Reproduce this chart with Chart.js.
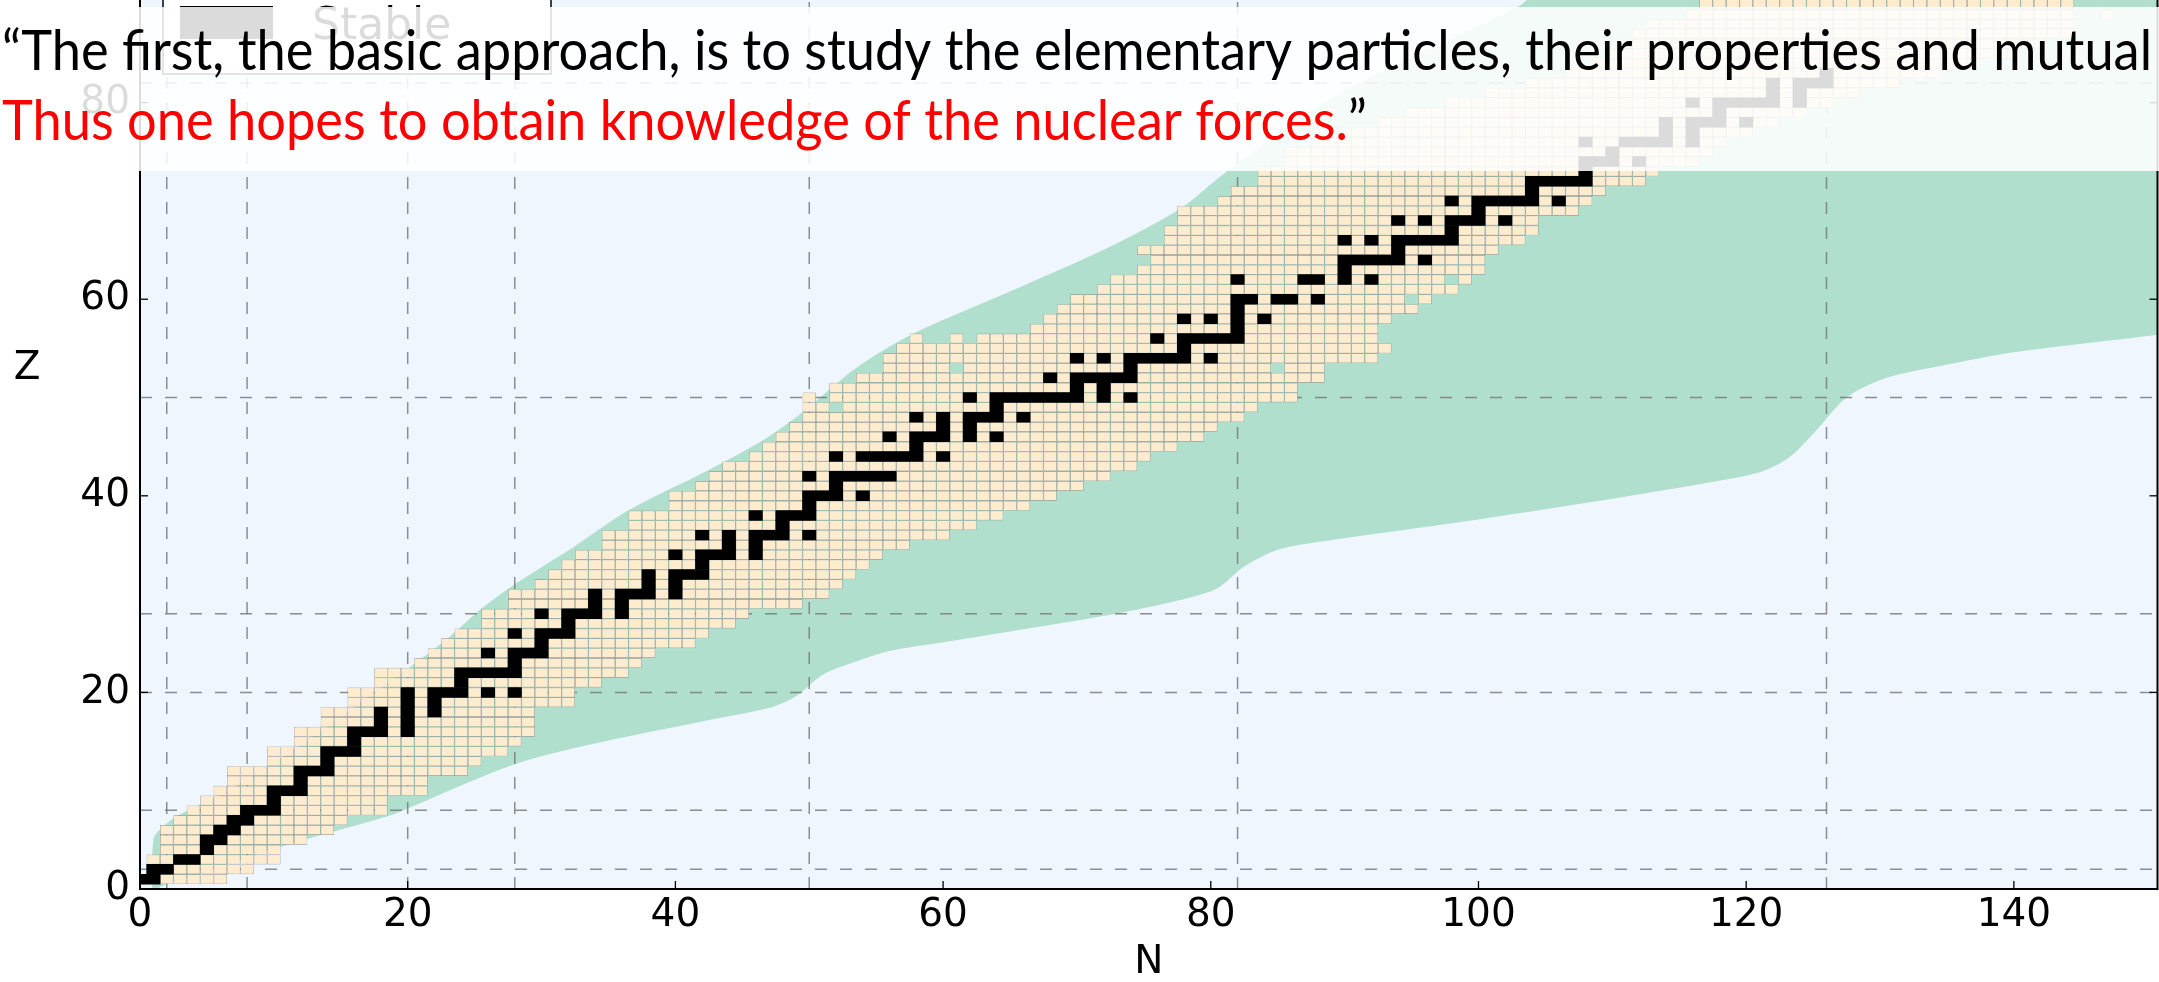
<!DOCTYPE html>
<html>
<head>
<meta charset="utf-8">
<script src="https://cdn.jsdelivr.net/npm/chart.js"></script>
<style>
  html, body { margin: 0; padding: 0; background: #fff; overflow: hidden; }
  #wrap { width: 2159px; height: 982px; position: relative; }
</style>
</head>
<body>
<div id="wrap"><canvas id="chart"></canvas></div>
<script>
// known nuclides: one row segment (Z, first N, last N) per entry
const knownZ    = [1,2,3,4,5,6,7,8,9,10, 11,12,13,14,15,16,17,18,19,20, 21,22,23,24,25,26,27,28,29,30,
                   31,32,33,34,35,36,37,38,39,40, 41,42,43,44,45,46,47,48,49,50, 51,52,53,54,55,56,56,56,57,58,
                   59,60,61,62,63,64,65,66,67,68, 69,70,71,72,73,74,75,76,77,78, 79,80,81,82,83,84,85,86,87,88, 89,89,90];
const knownNmin = [0,1,1,2,2,2,3,4,5,6, 7,7,10,10,12,12,14,14,16,16, 18,18,21,22,23,24,26,26,28,28,
                   30,31,32,33,35,35,37,37,40,40, 42,43,44,46,47,48,49,50,50,50, 52,54,56,56,57,58,61,63,67,68,
                   69,70,72,73,75,76,75,77,77,78, 78,81,82,84,84,86,86,88,90,93, 95,98,101,104,107,109,110,111,112,113, 116,147,117];
const knownNmax = [6,8,10,10,12,14,15,18,18,21, 21,24,25,27,28,29,29,29,32,32, 34,36,37,38,41,42,44,45,49,51,
                   52,53,54,55,57,60,62,64,66,68, 70,72,74,75,77,79,80,82,83,86, 86,88,88,92,93,58,61,92,92,93,
                   95,96,98,99,100,100,101,103,104,104, 107,108,109,112,113,116,117,118,120,122, 124,126,128,131,134,137,140,142,144,144, 144,147,144];
// unknown cells inside the band
const holeN = [52, 51, 61, 85, 95, 98];
const holeZ = [49, 50, 53, 53, 60, 62];

// stable isotopes: list of N for Z = 1, 2, 3, ...
const stableN = [
  [0,1],[1,2],[3,4],[5],[5,6],[6,7],[7,8],[8,9,10],[10],[10,11,12],
  [12],[12,13,14],[14],[14,15,16],[16],[16,17,18,20],[18,20],[18,20,22],[20,22],[20,22,23,24,26,28],
  [24],[24,25,26,27,28],[28],[26,28,29,30],[30],[28,30,31,32],[32],[30,32,33,34,36],[34,36],[34,36,37,38,40],
  [38,40],[38,40,41,42],[42],[40,42,43,44,46],[44,46],[42,44,46,47,48,50],[48],[46,48,49,50],[50],[50,51,52,54],
  [52],[50,52,53,54,55,56],[],[52,54,55,56,57,58,60],[58],[56,58,59,60,62,64],[60,62],[58,60,62,63,64,66],[64],[62,64,65,66,67,68,69,70,72,74],
  [70,72],[68,70,71,72,73,74],[74],[70,72,74,75,76,77,78,80],[78],[76,78,79,80,81,82],[82],[78,80,82,84],[82],[82,83,85,86,88],
  [],[82,87,88,90,92],[90],[90,91,92,93,94,96],[94],[90,92,94,95,96,97,98],[98],[94,96,98,99,100,102],[100],[98,100,101,102,103,104,106],
  [104],[104,105,106,107,108],[108],[108,109,110,112],[110],[108,111,112,113,114,116],[114,116],[114,116,117,118,120],[118],[116,118,119,120,121,122,124],
  [122,124],[122,124,125,126],[126]
];

// drip line band: proton side (upper-left) and neutron side (lower-right)
const dripUpperN = [0.9, 1.0, 1.6, 3.0, 6.0, 9.5, 14, 17, 20.4, 23, 25.5, 28, 32.4, 36.6, 42.3, 46.6, 49.5, 53.5, 57.8, 65.2, 72.7, 77.7, 81.2, 90.1, 103, 106, 160, 160];
const dripUpperZ = [-2, 5.0, 6.2, 7.6, 9.6, 12.4, 16.5, 19.5, 22.8, 25.5, 28.5, 31, 34.8, 38.6, 42.5, 45.7, 48.5, 53, 56.5, 60.9, 65.5, 69.2, 73, 81.3, 89.8, 93, 93, 58];
const dripLowerN = [1.1, 1.3, 4, 10.5, 18.5, 20, 28, 35, 41.8, 47.2, 49, 51, 53.4, 56, 60, 65, 72.5, 77.7, 80.5, 82.5, 85, 88, 100, 110, 117, 121, 123.2, 125.2, 127.5, 130.5, 134.5, 140, 150.8, 158];
const dripLowerZ = [-2, 0, 1.3, 4.3, 7.4, 8.2, 12.7, 15.1, 17, 18.5, 19.6, 21.8, 23.1, 24.2, 25.1, 26.2, 27.9, 29.4, 30.6, 32.8, 34.5, 35.3, 37.6, 39.7, 41.3, 42.4, 43.9, 46.6, 50, 52, 53.2, 54.6, 56.4, 57.7];

const magicN = [2, 8, 20, 28, 50, 82, 126];
const magicZ = [2, 8, 20, 28, 50, 82];
const xTicks = [0, 20, 40, 60, 80, 100, 120, 140];
const yTicks = [0, 20, 40, 60, 80];

const quoteLine1 = '\u201CThe first, the basic approach, is to study the elementary particles, their properties and mutual';
const quoteLine2 = 'Thus one hopes to obtain knowledge of the nuclear forces.';

const isHole = (n, z) => holeN.some((h, i) => h === n && holeZ[i] === z);

const knownCells = [];
knownZ.forEach((z, i) => {
  for (let n = knownNmin[i]; n <= knownNmax[i]; n++) {
    if (!isHole(n, z)) knownCells.push({ x: [n - 0.5, n + 0.5], y: z });
  }
});

const stableCells = [];
stableN.forEach((list, i) => {
  list.forEach(n => stableCells.push({ x: [n - 0.5, n + 0.5], y: i + 1 }));
});

const dripShape = dripUpperN.map((n, i) => ({ x: n, y: dripUpperZ[i] }))
  .concat(dripLowerN.map((n, i) => ({ x: n, y: dripLowerZ[i] })).reverse());

const tickFont = { family: 'DejaVu Sans', size: 39 };

const decor = {
  id: 'decor',
  beforeDraw(chart) {
    const { ctx, chartArea: a } = chart;
    ctx.save();
    ctx.fillStyle = '#ffffff';
    ctx.fillRect(0, 0, chart.width, chart.height);
    ctx.fillStyle = '#eff6fe';
    ctx.fillRect(a.left, a.top, a.width, a.height);
    ctx.restore();
  },
  afterDatasetDraw(chart, args) {
    // magic number lines sit above the drip band, below the cells
    if (args.meta.type !== 'line') return;
    const { ctx, chartArea: a } = chart;
    const xs = chart.scales.x, ys = chart.scales.y;
    ctx.save();
    ctx.beginPath();
    ctx.rect(a.left, a.top, a.width, a.height);
    ctx.clip();
    ctx.setLineDash([12, 13]);
    ctx.strokeStyle = 'rgba(115,115,115,0.8)';
    ctx.lineWidth = 1.5;
    magicN.forEach(n => {
      const px = xs.getPixelForValue(n);
      ctx.beginPath(); ctx.moveTo(px, a.bottom); ctx.lineTo(px, a.top); ctx.stroke();
    });
    magicZ.forEach(z => {
      const py = ys.getPixelForValue(z);
      ctx.beginPath(); ctx.moveTo(a.left, py); ctx.lineTo(a.right, py); ctx.stroke();
    });
    ctx.restore();
  },
  afterDatasetsDraw(chart) {
    const { ctx, chartArea: a } = chart;
    const xs = chart.scales.x, ys = chart.scales.y;
    ctx.save();
    // frame
    ctx.strokeStyle = '#000';
    ctx.lineWidth = 2;
    ctx.beginPath();
    ctx.moveTo(a.left, a.top); ctx.lineTo(a.left, a.bottom);
    ctx.lineTo(a.right, a.bottom); ctx.lineTo(a.right, a.top);
    ctx.stroke();
    // inward ticks
    ctx.lineWidth = 1.3;
    xTicks.forEach(v => {
      const px = xs.getPixelForValue(v);
      ctx.beginPath(); ctx.moveTo(px, a.bottom); ctx.lineTo(px, a.bottom - 8); ctx.stroke();
    });
    yTicks.forEach(v => {
      const py = ys.getPixelForValue(v);
      ctx.beginPath(); ctx.moveTo(a.left, py); ctx.lineTo(a.left + 8, py); ctx.stroke();
      ctx.beginPath(); ctx.moveTo(a.right, py); ctx.lineTo(a.right - 8, py); ctx.stroke();
    });
    // upright axis letter
    ctx.fillStyle = '#000';
    ctx.font = '39px "DejaVu Sans"';
    ctx.textAlign = 'center';
    ctx.textBaseline = 'middle';
    ctx.fillText('Z', 27, 369);
    // legend (mostly cut off at the top)
    ctx.fillStyle = '#fff';
    ctx.fillRect(163, -30, 388, 104);
    ctx.strokeStyle = '#000';
    ctx.lineWidth = 1.5;
    ctx.strokeRect(163, -30, 388, 104);
    ctx.fillStyle = '#000';
    ctx.fillRect(180, 6, 93, 33);
    ctx.font = '44px "DejaVu Sans"';
    ctx.textAlign = 'left';
    ctx.textBaseline = 'alphabetic';
    ctx.fillText('Stable', 312, 39);
    ctx.restore();
  },
  afterDraw(chart) {
    const { ctx } = chart;
    ctx.save();
    ctx.fillStyle = 'rgba(255,255,255,0.86)';
    ctx.fillRect(0, 7, chart.width, 164);
    ctx.font = '56px Lato';
    ctx.textAlign = 'left';
    ctx.textBaseline = 'alphabetic';
    const w1 = ctx.measureText(quoteLine1).width;
    ctx.translate(2, 0);
    ctx.scale(2150 / w1, 1);
    ctx.fillStyle = '#000';
    ctx.fillText(quoteLine1, 0, 70);
    ctx.fillStyle = '#ff0000';
    ctx.fillText(quoteLine2, 0, 140);
    const w2 = ctx.measureText(quoteLine2).width;
    ctx.fillStyle = '#000';
    ctx.fillText('\u201D', w2, 140);
    ctx.restore();
  }
};

new Chart(document.getElementById('chart'), {
  type: 'bar',
  data: {
    datasets: [
      {
        type: 'line',
        label: 'Drip lines',
        data: dripShape,
        fill: 'shape',
        backgroundColor: '#b0dfce',
        borderWidth: 0,
        pointRadius: 0,
        tension: 0.3,
        order: 3
      },
      {
        type: 'bar',
        label: 'Known',
        data: knownCells,
        indexAxis: 'y',
        grouped: false,
        barPercentage: 1,
        categoryPercentage: 1,
        backgroundColor: '#ffebcd',
        borderColor: '#8e8e8e',
        borderWidth: 0.65,
        borderSkipped: false,
        inflateAmount: 0,
        order: 2
      },
      {
        type: 'bar',
        label: 'Stable',
        data: stableCells,
        indexAxis: 'y',
        grouped: false,
        barPercentage: 1,
        categoryPercentage: 1,
        backgroundColor: '#000000',
        borderWidth: 0,
        order: 1
      }
    ]
  },
  options: {
    responsive: true,
    maintainAspectRatio: false,
    animation: false,
    events: [],
    layout: { padding: { left: 0, right: 1.5, top: 0, bottom: 0 } },
    elements: { line: { capBezierPoints: false } },
    plugins: { legend: { display: false }, tooltip: { enabled: false } },
    scales: {
      x: {
        type: 'linear',
        min: 0,
        max: 150.73,
        offset: false,
        grid: { display: false, drawTicks: false, offset: false },
        border: { display: false },
        afterBuildTicks: s => { s.ticks = xTicks.map(v => ({ value: v })); },
        afterFit: s => { s.height = 93; s.paddingLeft = 0; s.paddingRight = 0; },
        ticks: { font: tickFont, color: '#000', padding: 3, maxRotation: 0, autoSkip: false },
        title: { display: true, text: 'N', color: '#000', font: { family: 'DejaVu Sans', size: 39, lineHeight: 1 }, padding: 0 }
      },
      y: {
        type: 'linear',
        min: 0,
        max: 90.44,
        offset: false,
        grid: { display: false, drawTicks: false, offset: false },
        border: { display: false },
        afterBuildTicks: s => { s.ticks = yTicks.map(v => ({ value: v })); },
        afterFit: s => { s.width = 140; s.paddingTop = 0; s.paddingBottom = 0; },
        ticks: { font: tickFont, color: '#000', padding: 10, autoSkip: false }
      }
    }
  },
  plugins: [decor]
});
</script>
</body>
</html>
